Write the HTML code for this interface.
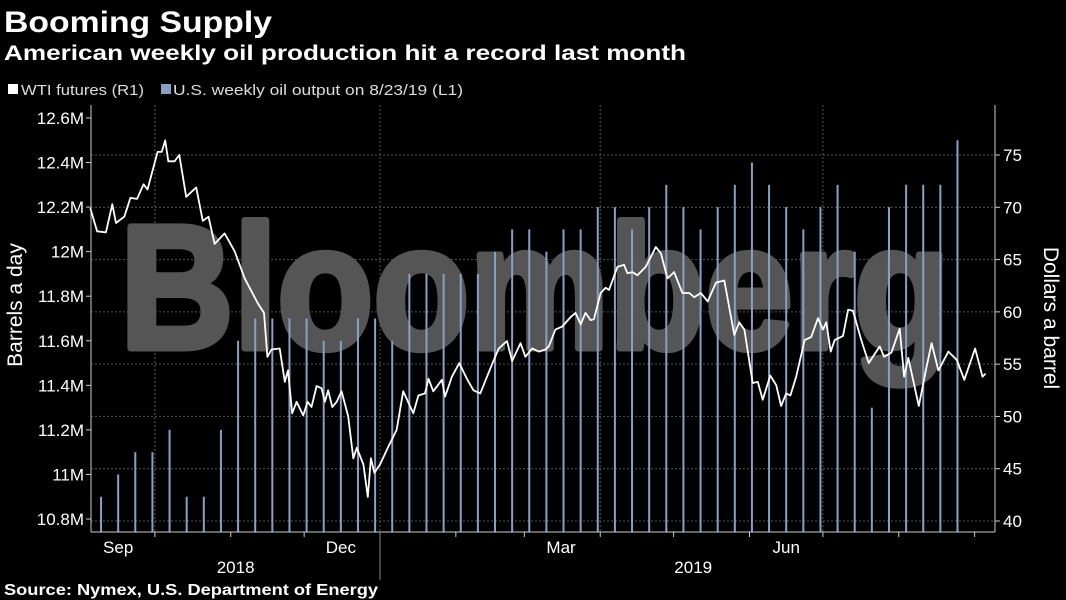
<!DOCTYPE html>
<html><head><meta charset="utf-8"><style>
body{margin:0;background:#000;width:1066px;height:600px;overflow:hidden;font-family:"Liberation Sans",sans-serif;color:#fff}
svg{position:absolute;left:0;top:0}
</style></head><body>
<svg id="chart" width="1066" height="600" viewBox="0 0 1066 600">
<text x="4" y="32" font-size="30" font-weight="bold" fill="#fff" textLength="268" lengthAdjust="spacingAndGlyphs">Booming Supply</text>
<text x="4" y="60" font-size="21" font-weight="bold" fill="#fff" textLength="682" lengthAdjust="spacingAndGlyphs">American weekly oil production hit a record last month</text>
<g>
<rect x="8" y="84" width="10" height="10" fill="#fff"/>
<text x="21" y="95" font-size="15" fill="#ddd" textLength="123" lengthAdjust="spacingAndGlyphs">WTI futures (R1)</text>
<rect x="161" y="84" width="10" height="10" fill="#8a9fc2"/>
<text x="173" y="95" font-size="15" fill="#ddd" textLength="290" lengthAdjust="spacingAndGlyphs">U.S. weekly oil output on 8/23/19 (L1)</text>
</g>
<g id="grid"></g>
<text x="535" y="348" font-size="176" font-weight="bold" fill="#555" stroke="#555" stroke-width="7" stroke-linejoin="round" text-anchor="middle" textLength="830" lengthAdjust="spacingAndGlyphs">Bloomberg</text>
<g id="bars"></g>
<g id="axes"></g>
<path id="wti" fill="none" stroke="#fff" stroke-width="1.8" stroke-linejoin="round"/>
<text transform="translate(22,305) rotate(-90)" font-size="21" fill="#fff" text-anchor="middle">Barrels a day</text>
<text transform="translate(1044,318) rotate(90)" font-size="21" fill="#fff" text-anchor="middle">Dollars a barrel</text>
<text x="4" y="595" font-size="16" font-weight="bold" fill="#fff" textLength="374" lengthAdjust="spacingAndGlyphs">Source: Nymex, U.S. Department of Energy</text>
</svg>
<script>
// Data
const leftTicks = [10.8, 11.0, 11.2, 11.4, 11.6, 11.8, 12.0, 12.2, 12.4, 12.6];
const leftTickLabels = ["10.8M","11M","11.2M","11.4M","11.6M","11.8M","12M","12.2M","12.4M","12.6M"];
const rightTicks = [40, 45, 50, 55, 60, 65, 70, 75];
const monthLabels = ["Sep","Dec","Mar","Jun"];
const monthLabelDays = [-107, -16, 74, 166];
const monthTickDays = [-92, -61, -31, 0, 31, 59, 90, 120, 151, 181, 212, 243];
const yearLabels = ["2018","2019"];
const yearLabelDays = [-59, 128];
// weekly output, millions of barrels/day (first week ends 114 days before 2019-01-01)
const barStartDay = -114;
const outputValues = [10.9,11.0,11.1,11.1,11.2,10.9,10.9,11.2,11.6,11.7,11.7,11.7,11.7,11.6,11.6,11.7,11.7,11.6,11.9,11.9,11.9,11.9,11.9,12.0,12.1,12.1,12.0,
12.1,12.1,12.2,12.2,12.1,12.2,12.3,12.2,12.1,12.2,12.3,12.4,12.3,12.2,12.1,12.2,12.3,12.0,11.3,12.2,12.3,12.3,12.3,12.5];
// WTI: days from 2019-01-01 and price
const wtiDays = [-118.4,-115.6,-112,-109.4,-107.9,-104.5,-102,-99.3,-96.6,-95,-90.9,-89.2,-87.8,-86.5,-84,-82,-79.2,-75.1,-72.4,-70.1,-67.6,-63.5,-59.4,-55.3,-49.9,-47.4,-46,-44.4,-41,-38.9,-37.6,-35.9,-34.1,-31.4,-29.6,-28,-25.9,-23.9,-22.5,-21.2,-19.5,-17.7,-15.7,-13,-10.9,-9.5,-6.8,-5,-3.7,-2.3,0,3.4,6.8,9.5,13.6,15.7,18.4,19.8,21.8,25.3,26.6,29.4,32.4,35.5,38.2,41,45.1,48.5,51.9,54,57.4,59.4,62.2,64.9,67.6,69,71.7,74.5,77.9,79.9,82,84,86.1,87.4,90.2,92.2,93.6,97,99.7,101.1,103.2,105.2,108.6,112.7,114.8,117.5,120.2,123.6,126.4,128.4,131.1,133.9,137.3,140.7,144.8,146.8,148.9,152.3,154.4,156.4,159.5,161.9,163.9,166,167.7,170.1,173.5,176.2,179,181,182.4,184.2,185.8,189.2,191.3,193.3,196.7,199.7,204.2,206,209,212.4,214.2,215.9,220.2,223.4,225.4,228.2,232.3,235.7,238.8,243.2,246.2,247.5];
const wtiValues = [69.9,67.7,67.6,70.3,68.5,69.1,70.9,70.8,72.2,71.7,75.3,75.3,76.4,74.4,74.4,75.0,71.0,71.9,68.7,69.1,66.5,67.5,65.8,63.2,60.8,59.9,55.7,56.4,56.5,53.3,54.4,50.3,51.4,50.1,51.4,50.9,52.9,52.7,51.4,52.5,50.9,51.4,52.4,50.0,46.0,47.0,45.4,42.3,46.0,44.6,45.4,47.1,48.7,52.4,50.3,52.0,52.2,53.6,52.4,53.5,51.9,53.8,55.1,53.6,52.5,52.2,54.6,56.5,57.2,55.3,57.0,55.7,56.5,56.2,56.4,56.7,58.3,58.6,59.5,59.9,58.8,59.9,59.2,59.3,61.8,62.3,62.1,64.3,64.5,63.7,63.8,63.5,64.3,66.2,65.6,63.2,63.8,61.8,61.8,61.4,61.8,61.0,62.8,63.0,57.8,59.0,58.3,53.2,53.3,51.6,53.9,53.0,51.0,52.2,52.0,53.8,57.3,57.6,59.4,58.3,59.0,56.2,57.3,57.7,60.2,60.1,57.3,55.1,56.7,55.7,56.1,58.4,53.8,55.6,51.0,54.8,57.0,54.4,56.2,55.4,53.5,56.5,53.8,54.1];

const NS="http://www.w3.org/2000/svg";
const X0=91, X1=995, YB=532;
const xDay = d => 380 + 2.447*d;
const yL = v => 519 - (v-10.8)*222.8;
const yR = v => 521 - (v-40)*10.457;
function mk(tag, attrs, parent){const e=document.createElementNS(NS,tag);for(const k in attrs)e.setAttribute(k,attrs[k]);parent.appendChild(e);return e;}
const grid=document.getElementById('grid'), axes=document.getElementById('axes'), bars=document.getElementById('bars');
const NF="Liberation Sans Narrow, Liberation Sans, sans-serif";

rightTicks.forEach(v=>{
  const l=mk('line',{x1:X0,x2:X1,y1:yR(v),y2:yR(v),stroke:'#555','stroke-dasharray':'2,2','stroke-width':1},grid);
  
  
  const t=mk('line',{x1:X1,x2:X1+5,y1:yR(v),y2:yR(v),stroke:'#ccc'},axes);
  
  
  const tx=mk('text',{x:X1+8,y:yR(v)+6,'font-size':17,fill:'#fff','font-family':NF},axes);
  tx.textContent=v;
  
  
});
[-92,0,90,181].forEach(d=>{
  const l=mk('line',{x1:xDay(d),x2:xDay(d),y1:105,y2:YB,stroke:'#555','stroke-dasharray':'2,2'},grid);
  
  
});
leftTicks.forEach((v,i)=>{
  const t=mk('line',{x1:X0-5,x2:X0,y1:yL(v),y2:yL(v),stroke:'#ccc'},axes);
  
  
  const tx=mk('text',{x:X0-7,y:yL(v)+6,'font-size':17,fill:'#fff','text-anchor':'end','font-family':NF},axes);
  tx.textContent=leftTickLabels[i];
  
  
});
outputValues.forEach((v,i)=>{
  const x=xDay(barStartDay+7*i);
  const b=mk('rect',{x:x-1,y:yL(v),width:2,height:YB-yL(v),fill:'#8a9fc2'},bars);
  
  
});
let al=mk('line',{x1:X0,x2:X0,y1:105,y2:YB,stroke:'#ccc'},axes);


al=mk('line',{x1:X1,x2:X1,y1:105,y2:YB,stroke:'#ccc'},axes);


al=mk('line',{x1:X0,x2:X1,y1:YB,y2:YB,stroke:'#ccc'},axes);


monthTickDays.forEach(d=>{
  const t=mk('line',{x1:xDay(d),x2:xDay(d),y1:YB,y2:YB+5,stroke:'#ccc'},axes);
  
  
});
monthLabels.forEach((m,i)=>{
  const t=mk('text',{x:xDay(monthLabelDays[i]),y:553,'font-size':17,fill:'#fff','text-anchor':'middle','font-family':NF},axes);
  t.textContent=m;
  
  
});
yearLabels.forEach((m,i)=>{
  const t=mk('text',{x:xDay(yearLabelDays[i]),y:573,'font-size':17,fill:'#fff','text-anchor':'middle','font-family':NF},axes);
  t.textContent=m;
  
  
});
al=mk('line',{x1:xDay(0),x2:xDay(0),y1:YB,y2:580,stroke:'#888'},axes);


document.getElementById('wti').setAttribute('d', wtiValues.map((v,i)=>(i?'L':'M')+xDay(wtiDays[i]).toFixed(1)+','+yR(v).toFixed(1)).join(''));
</script>
</body></html>
